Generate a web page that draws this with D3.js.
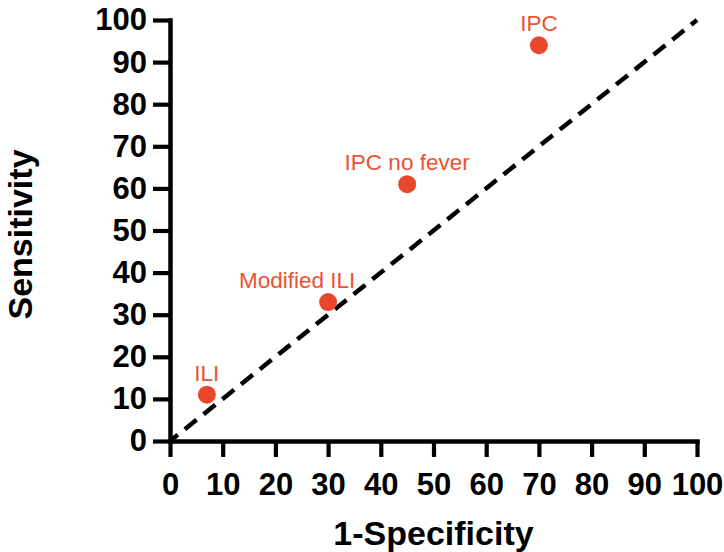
<!DOCTYPE html>
<html>
<head>
<meta charset="utf-8">
<script src="https://cdn.jsdelivr.net/npm/d3@7"></script>
<style>
  html, body { margin: 0; padding: 0; background: #fff; }
  svg { display: block; }
</style>
</head>
<body>
<script>
// Case definitions: false-positive rate (1-Specificity) vs. sensitivity, in %
const caseNames   = ["ILI", "Modified ILI", "IPC no fever", "IPC"];
const specFalse   = [7, 30, 45, 70];
const sensitivity = [11, 33, 61, 94];

// Axis ticks
const xTicks = [0, 10, 20, 30, 40, 50, 60, 70, 80, 90, 100];
const yTicks = [0, 10, 20, 30, 40, 50, 60, 70, 80, 90, 100];

// Line of no discrimination
const chanceLine = [[0, 0], [100, 100]];

// Label nudges (pixels) so text clears the dashed line
const labelDx = { "Modified ILI": -31 };

const W = 724, H = 552;
const plotLeft = 170, plotRight = 697, plotTop = 20, plotBottom = 441;

const svg = d3.select("body").append("svg")
  .attr("width", W).attr("height", H);

const x = d3.scaleLinear().domain([0, 100]).range([plotLeft, plotRight]);
const y = d3.scaleLinear().domain([0, 100]).range([plotBottom, plotTop]);

const dotColor = "#e8472b";
const textColor = "#ec5234";
const fontFam = "'Liberation Sans', Arial, sans-serif";

// Dashed diagonal
svg.append("path")
  .datum(chanceLine)
  .attr("d", d3.line().x(d => x(d[0])).y(d => y(d[1])))
  .attr("fill", "none")
  .attr("stroke", "#000")
  .attr("stroke-width", 4.5)
  .attr("stroke-dasharray", "15,9")
  .attr("stroke-dashoffset", 5);

// Axes
const xAxis = svg.append("g")
  .attr("transform", `translate(0,${plotBottom})`)
  .call(d3.axisBottom(x).tickValues(xTicks).tickSize(16).tickSizeOuter(0).tickPadding(16));

const yAxis = svg.append("g")
  .attr("transform", `translate(${plotLeft},0)`)
  .call(d3.axisLeft(y).tickValues(yTicks).tickSize(17).tickSizeOuter(0).tickPadding(6));

[xAxis, yAxis].forEach(g => {
  g.select(".domain").attr("stroke", "#000").attr("stroke-width", 4.5)
    .attr("stroke-linecap", "square");
  g.selectAll(".tick line").attr("stroke", "#000").attr("stroke-width", 4.2);
  g.selectAll(".tick text")
    .attr("fill", "#000")
    .style("font-family", fontFam)
    .style("font-weight", "bold")
    .style("font-size", "31px");
});

// Axis titles
svg.append("text")
  .attr("x", (plotLeft + plotRight) / 2)
  .attr("y", 545)
  .attr("text-anchor", "middle")
  .style("font-family", fontFam)
  .style("font-weight", "bold")
  .style("font-size", "34px")
  .text("1-Specificity");

svg.append("text")
  .attr("transform", `translate(32,${(plotTop + plotBottom) / 2 + 4}) rotate(-90)`)
  .attr("text-anchor", "middle")
  .style("font-family", fontFam)
  .style("font-weight", "bold")
  .style("font-size", "34px")
  .text("Sensitivity");

// Points
const pts = caseNames.map((name, i) => ({ name, fx: specFalse[i], sens: sensitivity[i] }));

svg.append("g").selectAll("circle")
  .data(pts).join("circle")
  .attr("cx", d => x(d.fx))
  .attr("cy", d => y(d.sens))
  .attr("r", 9)
  .attr("fill", dotColor);

svg.append("g").selectAll("text")
  .data(pts).join("text")
  .attr("x", d => x(d.fx) + (labelDx[d.name] || 0))
  .attr("y", d => y(d.sens) - 14)
  .attr("text-anchor", "middle")
  .attr("fill", textColor)
  .style("font-family", fontFam)
  .style("font-size", "22.5px")
  .text(d => d.name);
</script>
</body>
</html>
